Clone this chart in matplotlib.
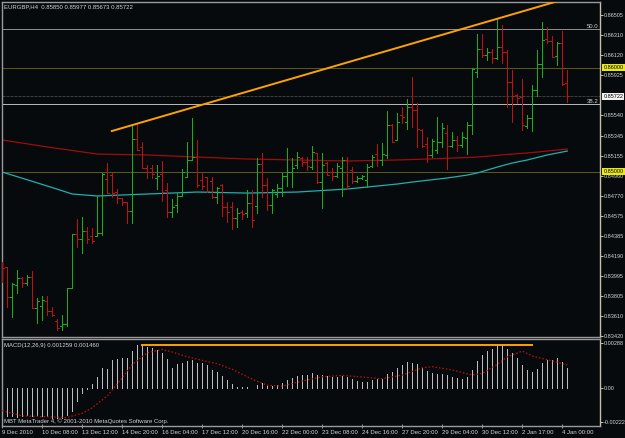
import matplotlib
matplotlib.use("Agg")
import matplotlib.pyplot as plt
import matplotlib.transforms as mtransforms

plt.rcParams['font.family'] = ['Liberation Sans', 'DejaVu Sans']

# --- data (EURGBP H4) ---
header = "EURGBP,H4  0.85850 0.85977 0.85673 0.85722"
macd_title = "MACD(12,26,9) 0.001259 0.001460"
copyright_txt = "MBT MetaTrader 4, \u00a9 2001-2010 MetaQuotes Software Corp."

opens = [0.84122, 0.84083, 0.83795, 0.83910, 0.83978, 0.83930, 0.83987, 0.83689, 0.83708, 0.83757,
         0.83660, 0.83564, 0.83516, 0.83536, 0.83882, 0.84400, 0.84352, 0.84429, 0.84381, 0.84381,
         0.84410, 0.84929, 0.84967, 0.84804, 0.84746, 0.84708, 0.84621, 0.85313, 0.85237, 0.85035,
         0.85035, 0.84939, 0.84977, 0.84823, 0.84612, 0.84679, 0.84766, 0.84948, 0.85112, 0.85140,
         0.84919, 0.84948, 0.84910, 0.84756, 0.84871, 0.84660, 0.84660, 0.84554, 0.84612, 0.84602,
         0.84698, 0.84670, 0.85073, 0.84871, 0.84679, 0.84785, 0.84843, 0.84958, 0.84996, 0.85064,
         0.85131, 0.85092, 0.85044, 0.85179, 0.84900, 0.85083, 0.84996, 0.84958, 0.85035, 0.85112,
         0.85015, 0.84910, 0.84939, 0.84919, 0.85054, 0.85169, 0.85112, 0.85160, 0.85448, 0.85304,
         0.85544, 0.85477, 0.85621, 0.85592, 0.85400, 0.85265, 0.85160, 0.85208, 0.85285, 0.85371,
         0.85246, 0.85304, 0.85256, 0.85323, 0.85448, 0.85957, 0.86178, 0.86121, 0.86149, 0.86092,
         0.86198, 0.86149, 0.85861, 0.85736, 0.85717, 0.85438, 0.85515, 0.85784, 0.86034, 0.86274,
         0.86255, 0.86111, 0.86236, 0.85850]
highs = [0.84131, 0.84083, 0.83930, 0.84054, 0.83987, 0.84006, 0.84045, 0.83785, 0.83805, 0.83805,
         0.83699, 0.83584, 0.83622, 0.83882, 0.84400, 0.84545, 0.84564, 0.84468, 0.84458, 0.84766,
         0.84987, 0.85083, 0.84987, 0.84833, 0.84746, 0.84708, 0.85448, 0.85458, 0.85285, 0.85064,
         0.85064, 0.85064, 0.85102, 0.84891, 0.84737, 0.84794, 0.85025, 0.85285, 0.85515, 0.85304,
         0.84996, 0.84948, 0.84948, 0.84852, 0.84881, 0.84708, 0.84708, 0.84650, 0.84631, 0.84823,
         0.84823, 0.85131, 0.85179, 0.84939, 0.84833, 0.84881, 0.84987, 0.85227, 0.85131, 0.85188,
         0.85140, 0.85140, 0.85246, 0.85179, 0.85179, 0.85092, 0.85035, 0.85083, 0.85140, 0.85140,
         0.85044, 0.84958, 0.84967, 0.85073, 0.85160, 0.85265, 0.85275, 0.85582, 0.85458, 0.85563,
         0.85621, 0.85698, 0.85909, 0.85659, 0.85410, 0.85333, 0.85313, 0.85525, 0.85467, 0.85448,
         0.85381, 0.85342, 0.85381, 0.85477, 0.85996, 0.86322, 0.86322, 0.86188, 0.86178, 0.86467,
         0.86409, 0.86169, 0.85976, 0.85746, 0.85890, 0.85544, 0.85832, 0.86169, 0.86438, 0.86390,
         0.86303, 0.86246, 0.86351, 0.85977]
lows = [0.83939, 0.83699, 0.83603, 0.83833, 0.83891, 0.83910, 0.83689, 0.83545, 0.83574, 0.83622,
        0.83612, 0.83478, 0.83478, 0.83516, 0.83882, 0.84276, 0.84218, 0.84314, 0.84314, 0.84381,
        0.84391, 0.84794, 0.84756, 0.84698, 0.84679, 0.84506, 0.84506, 0.85208, 0.85035, 0.84939,
        0.84939, 0.84833, 0.84718, 0.84564, 0.84564, 0.84612, 0.84766, 0.84948, 0.85112, 0.84852,
        0.84833, 0.84804, 0.84746, 0.84698, 0.84573, 0.84516, 0.84448, 0.84468, 0.84545, 0.84564,
        0.84468, 0.84602, 0.84756, 0.84631, 0.84602, 0.84756, 0.84766, 0.84862, 0.84852, 0.85035,
        0.85054, 0.85015, 0.85025, 0.84891, 0.84650, 0.84967, 0.84919, 0.84948, 0.84766, 0.84833,
        0.84891, 0.84900, 0.84929, 0.84852, 0.85044, 0.85054, 0.85064, 0.85131, 0.85285, 0.85304,
        0.85467, 0.85410, 0.85429, 0.85237, 0.85237, 0.85092, 0.85140, 0.85179, 0.85237, 0.85025,
        0.85237, 0.85198, 0.85237, 0.85169, 0.85361, 0.85909, 0.86101, 0.86073, 0.86044, 0.86082,
        0.86044, 0.85621, 0.85477, 0.85659, 0.85400, 0.85419, 0.85390, 0.85727, 0.85909, 0.86236,
        0.86101, 0.86025, 0.85832, 0.85673]
closes = [0.84074, 0.83795, 0.83920, 0.83978, 0.83930, 0.83987, 0.83689, 0.83757, 0.83766, 0.83660,
          0.83622, 0.83497, 0.83536, 0.83882, 0.84400, 0.84352, 0.84429, 0.84352, 0.84333, 0.84410,
          0.84977, 0.84794, 0.84794, 0.84746, 0.84708, 0.84621, 0.85313, 0.85208, 0.85035, 0.84996,
          0.84977, 0.84958, 0.84804, 0.84612, 0.84660, 0.84766, 0.84996, 0.85112, 0.85140, 0.84871,
          0.84862, 0.84814, 0.84756, 0.84843, 0.84660, 0.84612, 0.84554, 0.84602, 0.84593, 0.84698,
          0.84535, 0.85073, 0.84871, 0.84679, 0.84823, 0.84843, 0.84958, 0.84996, 0.85035, 0.85140,
          0.85092, 0.85054, 0.85188, 0.84900, 0.85064, 0.84967, 0.84958, 0.85054, 0.85112, 0.84862,
          0.84910, 0.84939, 0.84958, 0.85044, 0.85140, 0.85112, 0.85169, 0.85448, 0.85285, 0.85477,
          0.85525, 0.85621, 0.85592, 0.85410, 0.85246, 0.85160, 0.85294, 0.85285, 0.85419, 0.85246,
          0.85304, 0.85256, 0.85333, 0.85448, 0.85986, 0.86178, 0.86121, 0.86149, 0.86092, 0.86198,
          0.86149, 0.85861, 0.85727, 0.85707, 0.85448, 0.85515, 0.85784, 0.86034, 0.86265, 0.86255,
          0.86101, 0.86236, 0.85842, 0.85722]

macd_hist = [-0.00172, -0.00183, -0.00183, -0.00188, -0.00183, -0.00179, -0.00183, -0.00179, -0.00183, -0.00183,
             -0.00194, -0.00194, -0.00194, -0.00179, -0.00151, -0.00087, -0.00037, -0.00011, 0.00021, 0.00070,
             0.00128, 0.00118, 0.00178, 0.00187, 0.00193, 0.00193, 0.00236, 0.00273, 0.00273, 0.00264,
             0.00258, 0.00243, 0.00225, 0.00187, 0.00128, 0.00150, 0.00157, 0.00172, 0.00178, 0.00161,
             0.00161, 0.00144, 0.00114, 0.00101, 0.00075, 0.00049, 0.00021, 0.00004, 0.00001, 0.00001,
             -0.00001, 0.00017, 0.00028, 0.00010, 0.00010, 0.00014, 0.00028, 0.00049, 0.00060, 0.00075,
             0.00081, 0.00081, 0.00092, 0.00081, 0.00081, 0.00075, 0.00070, 0.00070, 0.00075, 0.00070,
             0.00058, 0.00043, 0.00036, 0.00036, 0.00049, 0.00058, 0.00058, 0.00086, 0.00101, 0.00124,
             0.00144, 0.00165, 0.00161, 0.00150, 0.00128, 0.00107, 0.00092, 0.00086, 0.00090, 0.00079,
             0.00070, 0.00062, 0.00058, 0.00070, 0.00114, 0.00172, 0.00208, 0.00236, 0.00251, 0.00269,
             0.00269, 0.00251, 0.00225, 0.00193, 0.00144, 0.00114, 0.00101, 0.00122, 0.00157, 0.00178,
             0.00178, 0.00193, 0.00165, 0.00128]

signal_idx = [0, 4, 10, 13, 14, 16, 18, 21, 24, 26, 29, 32, 34, 37, 40, 43, 46, 50, 53,
              56, 60, 64, 68, 72, 76, 80, 84, 86, 90, 94, 96, 99, 101, 104, 106, 110, 113]
signal_vals = [-0.00149, -0.00183, -0.00190, -0.00194, -0.00183, -0.00166, -0.00130, -0.00054,
               0.00064, 0.00150, 0.00225, 0.00247, 0.00230, 0.00199, 0.00176, 0.00154, 0.00118,
               0.00054, 0.00015, 0.00010, 0.00043, 0.00070, 0.00079, 0.00068, 0.00058, 0.00081,
               0.00128, 0.00135, 0.00114, 0.00081, 0.00092, 0.00150, 0.00199, 0.00236, 0.00204,
               0.00172, 0.00146]

ma_slow_idx = [0, 9, 19, 29, 39, 49, 59, 69, 79, 85, 95, 102, 105, 113]
ma_slow_vals = [0.85304, 0.85237, 0.85169, 0.85160, 0.85140, 0.85121, 0.85112, 0.85102,
                0.85112, 0.85121, 0.85140, 0.85169, 0.85179, 0.85217]
ma_fast_idx = [0, 9, 14, 19, 29, 39, 49, 59, 69, 79, 82, 89, 93, 95, 99, 102, 105, 109, 113]
ma_fast_vals = [0.84996, 0.84862, 0.84785, 0.84766, 0.84785, 0.84804, 0.84794, 0.84804, 0.84833,
                0.84881, 0.84900, 0.84939, 0.84967, 0.84987, 0.85044, 0.85083, 0.85112, 0.85160,
                0.85198]

trend_idx = [21.9, 110.7]
trend_vals = [0.85390, 0.86633]
macd_line_idx = [28, 106]
macd_line_val = 0.00273

fib_levels = [0.86370, 0.85650]
fib_names = ["50.0", "38.2"]
yellow_levels = [0.86000, 0.85000]
bid = 0.85722

price_ticks = [0.86505, 0.86310, 0.86120, 0.85925, 0.85540, 0.85345, 0.85155, 0.84960,
               0.84770, 0.84575, 0.84385, 0.84190, 0.83995, 0.83805, 0.83610, 0.83420]
macd_ticks = [0.00288, 0.0, -0.00222]
macd_tick_labels = ["0.00288", "0.00", "-0.00222"]
time_idx = [0, 8, 16, 24, 32, 40, 48, 56, 64, 72, 80, 88, 96, 104, 112]
time_labels = ["9 Dec 2010", "10 Dec 08:00", "13 Dec 12:00", "14 Dec 20:00", "16 Dec 04:00",
               "17 Dec 12:00", "20 Dec 16:00", "22 Dec 00:00", "23 Dec 08:00", "24 Dec 16:00",
               "27 Dec 20:00", "29 Dec 04:00", "30 Dec 12:00", "2 Jan 17:00", "4 Jan 00:00"]

# --- styling ---
bg = '#060a0d'
up_col = '#18b018'
dn_col = '#c01010'
txt_col = '#d4d4d4'
frame_col = '#9a9a9a'
fs = 4.3
afs = 4.0   # price scale labels
lw1 = 0.72  # one pixel

W, H = 625, 438
def box(x0, y0, x1, y1):
    return [x0 / W, 1 - y1 / H, (x1 - x0) / W, (y1 - y0) / H]

fig = plt.figure(figsize=(6.25, 4.38), dpi=100, facecolor=bg)
ax = fig.add_axes(box(2, 2, 600, 337), facecolor=bg)
ax2 = fig.add_axes(box(2, 339, 600, 426), facecolor=bg)

n = len(closes)
xs = list(range(n))
cols = [up_col if c >= o else dn_col for o, c in zip(opens, closes)]

# price pane
for lv in yellow_levels:
    ax.axhline(lv, color='#b0a228', lw=lw1, ls=(0, (1, 1)), zorder=1)
ax.axhline(fib_levels[0], color='#8c8c8c', lw=lw1, zorder=1)
ax.axhline(fib_levels[1], color='#b4b4b4', lw=lw1, zorder=1)
ax.axhline(bid, color='#3c3c3c', lw=lw1, ls=(0, (3, 1)), zorder=1)

ax.plot(ma_slow_idx, ma_slow_vals, color='#a00c0c', lw=0.9, zorder=2)
ax.plot(ma_fast_idx, ma_fast_vals, color='#1fb0b0', lw=0.9, zorder=2)

ax.vlines(xs, lows, highs, colors=cols, lw=lw1, antialiased=False, zorder=3)
ax.hlines(opens, [x - 0.4 for x in xs], xs, colors=cols, lw=lw1, antialiased=False, zorder=3)
ax.hlines(closes, xs, [x + 0.4 for x in xs], colors=cols, lw=lw1, antialiased=False, zorder=3)

ax.plot(trend_idx, trend_vals, color='#ffa200', lw=1.4, zorder=4)

ax.set_xlim(-0.06, 119.54)
ax.set_ylim(0.83411, 0.86630)
ax.set_xticks([])
ax.yaxis.tick_right()
ax.set_yticks(price_ticks)
ax.set_yticklabels([f"{v:.5f}" for v in price_ticks])
ax.tick_params(axis='y', colors='#c8c0a8', labelcolor=txt_col, labelsize=afs, length=2, width=0.7, pad=1)

ytrans = mtransforms.blended_transform_factory(ax.transAxes, ax.transData)
for lv, name in zip(fib_levels, fib_names):
    ax.text(0.997, lv + 0.00004, name, transform=ytrans, ha='right', va='bottom',
            color=txt_col, fontsize=fs)
for lv, fc in [(0.86000, '#eaea10'), (bid, '#f2f2f2'), (0.85000, '#eaea10')]:
    ax.text(1.0055, lv, f"{lv:.5f}", transform=ytrans, ha='left', va='center', color='black',
            fontsize=afs, clip_on=False, zorder=10,
            bbox=dict(boxstyle='square,pad=0.2', fc=fc, ec='none'))

# MACD pane
ax2.vlines(xs, 0, macd_hist, colors='#bdbdbd', lw=lw1, antialiased=False, zorder=2)
ax2.plot(signal_idx, signal_vals, color='#c01010', lw=0.9, ls=(0, (1.2, 1.6)), zorder=3)
ax2.plot(macd_line_idx, [macd_line_val, macd_line_val], color='#ffa200', lw=1.4, zorder=4)
ax2.set_xlim(-0.06, 119.54)
ax2.set_ylim(-0.00248, 0.00314)
ax2.yaxis.tick_right()
ax2.set_yticks(macd_ticks)
ax2.set_yticklabels(macd_tick_labels)
ax2.tick_params(axis='y', colors='#c8c0a8', labelcolor=txt_col, labelsize=afs, length=2, width=0.7, pad=1)
ax2.set_xticks(time_idx)
ax2.set_xticklabels(time_labels, ha='left')
ax2.tick_params(axis='x', colors=frame_col, labelcolor=txt_col, labelsize=fs, length=3,
                width=0.7, pad=1.5, direction='inout')

for a in (ax, ax2):
    for s in a.spines.values():
        s.set_color(frame_col)
        s.set_linewidth(1)
    a.spines['right'].set_color('#c8c0a8')

fig.text(4 / W, 1 - 6.5 / H, header, color=txt_col, fontsize=fs, va='center', ha='left')
fig.text(4 / W, 1 - 345.5 / H, macd_title, color=txt_col, fontsize=fs, va='center', ha='left')
fig.text(4 / W, 1 - 421.5 / H, copyright_txt, color=txt_col, fontsize=fs, va='center', ha='left')

fig.savefig("out.png", dpi=100, facecolor=bg)
